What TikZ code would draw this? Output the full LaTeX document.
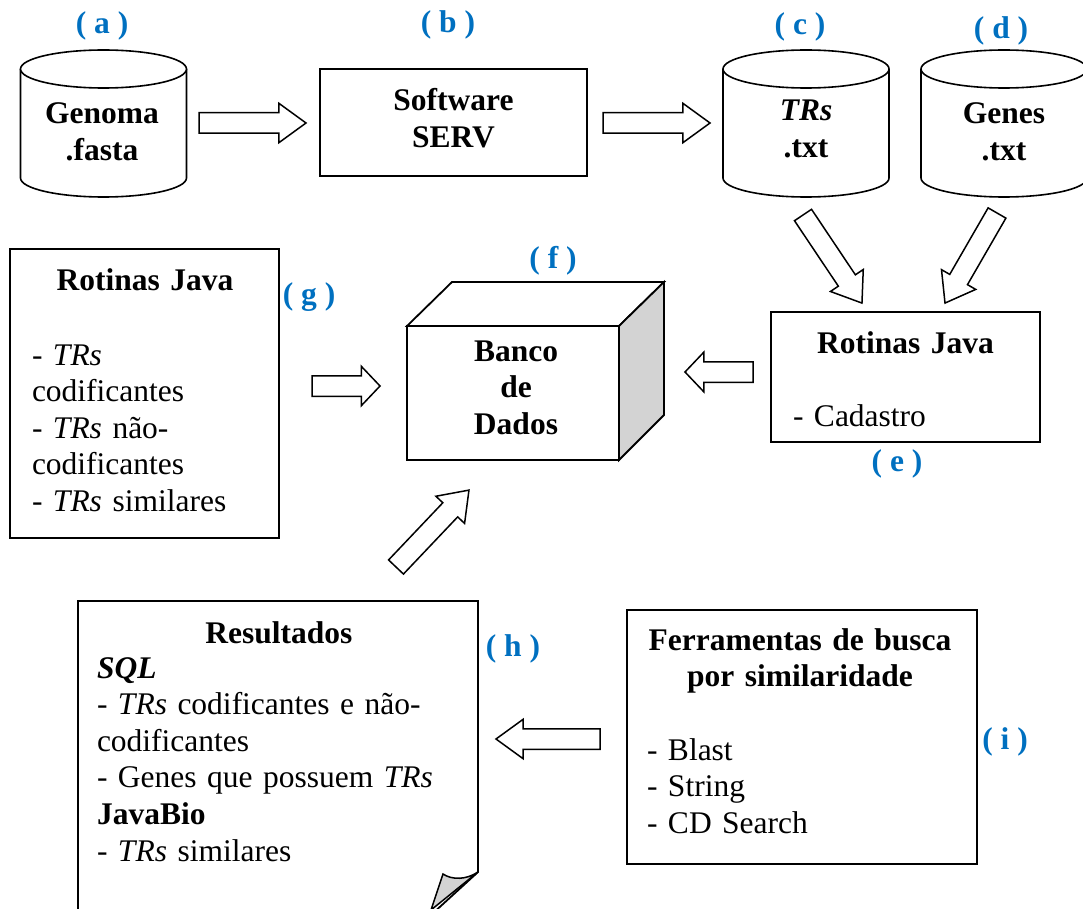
\documentclass[tikz,border=0pt]{standalone}
\usepackage{fontspec}
\setmainfont{Liberation Serif}
\usetikzlibrary{shapes.arrows,calc}
\definecolor{tagblue}{RGB}{0,112,192}
\definecolor{sidegray}{RGB}{211,211,211}

% database cylinder: #1 name of the body node, #2 centre x
\newcommand\dbcylinder[2]{%
  \node[minimum width=166pt, minimum height=147pt] (#1) at (#2,123.5) {};
  \draw[dbline, fill=white] (#2-83,69) -- (#2-83,178)
    arc[start angle=180, end angle=0, x radius=83, y radius=19] -- (#2+83,69);
  \draw[dbline, fill=white] (#2,69) ellipse[x radius=83, y radius=19];
}

\begin{document}
\begin{tikzpicture}[x=1pt,y=-1pt,
  every node/.style={inner sep=0pt, outer sep=0pt},
  boxframe/.style={draw, line width=1.8pt, fill=white},
  dbline/.style={line width=1.6pt},
  txt/.style={font=\fontsize{31.5}{36.6}\selectfont, text width=#1, align=left, anchor=base west},
  ctxt/.style={font=\fontsize{31.5}{36.6}\selectfont\bfseries, text width=#1, align=center, anchor=base},
  tag/.style={font=\fontsize{31.5}{36.6}\selectfont\bfseries, text=tagblue},
  blockarrow/.style={single arrow, draw, fill=white, line width=1.5pt,
    inner xsep=0pt, inner ysep=9.5pt, single arrow head extend=9.5pt,
    single arrow tip angle=72, minimum width=0pt, anchor=tail},
  shortarrow/.style={blockarrow, single arrow tip angle=93},
]
\useasboundingbox (0,0) rectangle (1083,909);

% --- top row: data sources and SERV ---
\dbcylinder{cylA}{103.5}
\dbcylinder{cylC}{806}
\dbcylinder{cylD}{1004}
\node[boxframe, minimum width=267pt, minimum height=107pt] (boxB) at (453.5,122.5) {};

\node[ctxt=200pt] (tA) at (102,124) {Genoma\\.fasta};
\node[ctxt=250pt] (tB) at (453.5,111) {Software\\SERV};
\node[ctxt=160pt] (tC) at (806,121) {\textit{TRs}\\.txt};
\node[ctxt=160pt] (tD) at (1004,123.5) {Genes\\.txt};

\node[tag] (tagA) at (102,26) {( a )};
\node[tag] (tagB) at (448,25) {( b )};
\node[tag] (tagC) at (800,27) {( c )};
\node[tag] (tagD) at (1001,31) {( d )};

% --- middle row ---
\node[boxframe, minimum width=269pt, minimum height=289pt] (boxG) at (144.5,393.5) {};
\node[ctxt=260pt] (hG) at (145,290) {Rotinas Java};
\node[txt=240pt] (tG) at (32,365) {- \textit{TRs}\\codificantes\\- \textit{TRs} não-\\codificantes\\- \textit{TRs} similares};
\node[tag] (tagG) at (309,297) {( g )};

\node[boxframe, minimum width=269pt, minimum height=130pt] (boxE) at (905.5,377) {};
\node[ctxt=260pt] (hE) at (905.5,353) {Rotinas Java};
\node[txt=200pt] (tE) at (793,426) {- Cadastro};
\node[tag] (tagE) at (897,464) {( e )};

% database box drawn as a cube
\node[boxframe, minimum width=212pt, minimum height=134pt] (dbF) at (513,393) {};
\draw[line width=1.8pt, fill=white] (dbF.north west) -- ++(45,-44) -- ++(212,0) -- (dbF.north east) -- cycle;
\draw[line width=1.8pt, fill=sidegray] (dbF.north east) -- ++(45,-44) -- ++(0,133) -- (dbF.south east) -- cycle;
\node[ctxt=200pt] (tF) at (516,361) {Banco\\de\\Dados};
\node[tag] (tagF) at (553,261) {( f )};

% --- bottom row ---
% results sheet with a curled corner
\draw[boxframe] (78,915) -- (78,601) -- (478,601) -- (478,872) -- (431,915);
\draw[line width=1.5pt, fill=sidegray] (478,872) .. controls (466,880) and (452,880) .. (443,874) -- (431,910) -- cycle;
\node[ctxt=380pt] (hH) at (279,643) {Resultados};
\node[txt=380pt] (tH) at (97,678) {\textbf{\textit{SQL}}\\- \textit{TRs} codificantes e não-\\codificantes\\- Genes que possuem \textit{TRs}\\\textbf{JavaBio}\\- \textit{TRs} similares};
\node[tag] (tagH) at (513,649) {( h )};

\node[boxframe, minimum width=350pt, minimum height=254pt] (boxI) at (802,737) {};
\node[ctxt=340pt] (hI) at (800,650) {Ferramentas de busca\\por similaridade};
\node[txt=300pt] (tI) at (647,760) {- Blast\\- String\\- CD Search};
\node[tag] (tagI) at (1005,742) {( i )};

% --- hollow block arrows between the stages ---
\node[blockarrow, minimum height=107pt] (arAB) at (199,123) {};
\node[blockarrow, minimum height=107pt] (arBC) at (603,123) {};
\node[blockarrow, minimum height=106pt, rotate=-56.2] (arCE) at (803,215) {};
\node[blockarrow, minimum height=104pt, rotate=-120] (arDE) at (997,213) {};
\node[shortarrow, minimum height=68pt, rotate=180] (arEF) at (753,372) {};
\node[shortarrow, minimum height=68pt] (arGF) at (312,386) {};
\node[blockarrow, minimum height=106pt, rotate=46.5] (arHF) at (396,567) {};
\node[blockarrow, minimum height=104pt, rotate=180] (arIH) at (600,739) {};
\end{tikzpicture}
\end{document}
